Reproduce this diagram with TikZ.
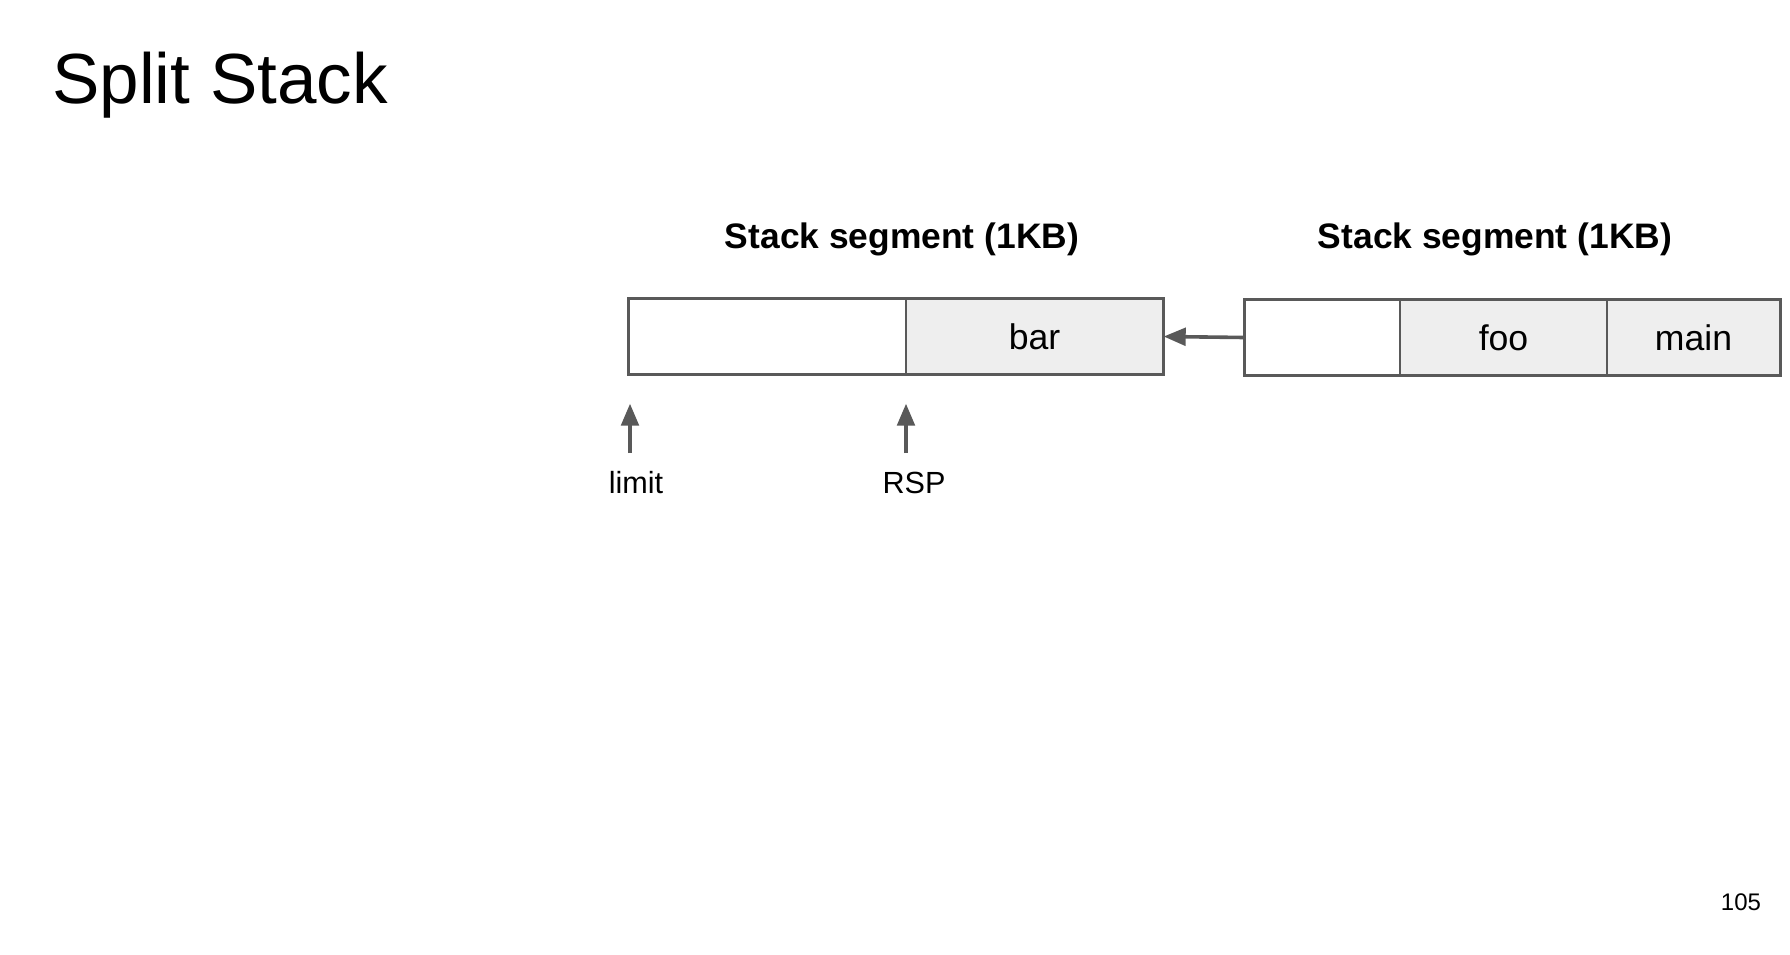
\documentclass[tikz,border=0pt]{standalone}
\usepackage{fontspec}
\setmainfont{Liberation Sans}
\usetikzlibrary{arrows.meta}
\definecolor{edge}{HTML}{595959}
\definecolor{cellfill}{HTML}{EEEEEE}
\tikzset{
  cell/.style={draw=edge, line width=0.7pt, minimum height=37.5pt, inner sep=0pt, font=\fontsize{17.8pt}{20pt}\selectfont},
  used/.style={cell, fill=cellfill},
  frame/.style={draw=edge, line width=1.4pt},
  ptr/.style={draw=edge, line width=1.8pt, -{Triangle[length=11pt,width=8.8pt]}},
  segtitle/.style={anchor=base, font=\fontsize{17.7pt}{20pt}\selectfont\bfseries},
  lbl/.style={anchor=base, font=\fontsize{15.3pt}{18pt}\selectfont}
}
\begin{document}
\begin{tikzpicture}[x=0.5pt,y=-0.5pt]
\useasboundingbox (0,0) rectangle (1790,954);
% title
\node[anchor=base west, inner sep=0pt, font=\fontsize{35.5pt}{42pt}\selectfont] (title) at (52,103) {Split Stack};
% first segment
\node[segtitle] (t1) at (902,248) {Stack segment (1KB)};
\node[cell, minimum width=138.5pt] (free1) at (767.5,336.5) {};
\node[used, minimum width=128.5pt] (bar) at (1034.5,336.5) {bar};
\draw[frame] (free1.north west) rectangle (bar.south east);
% second segment
\node[segtitle] (t2) at (1495,248.5) {Stack segment (1KB)};
\node[cell, minimum width=77.5pt] (free2) at (1322.5,337.5) {};
\node[used, minimum width=103.5pt] (foo) at (1503.5,337.5) {foo};
\node[used, minimum width=86.5pt] (main) at (1693.5,337.5) {main};
\draw[frame] (free2.north west) rectangle (main.south east);
% link
\draw[ptr] (free2.west) -- (bar.east);
% pointers
\node[lbl] (limit) at (636,493) {limit};
\node[lbl] (rsp) at (914,493) {RSP};
\coordinate (limtail) at (630,453);
\coordinate (rsptail) at (906,453);
\draw[ptr, shorten >=14.5pt] (limtail) -- (limtail |- free1.south);
\draw[ptr, shorten >=14.5pt] (rsptail) -- (rsptail |- free1.south);
% page number
\node[font=\fontsize{12pt}{14pt}\selectfont] (page) at (1741,902) {105};
\end{tikzpicture}
\end{document}
